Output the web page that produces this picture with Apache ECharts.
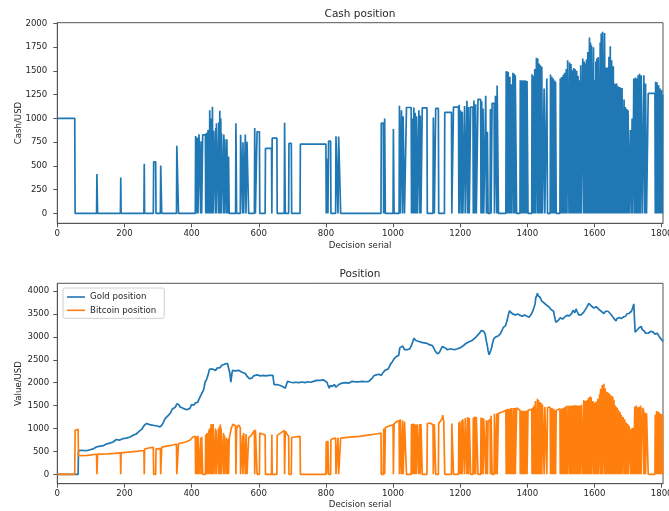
<!DOCTYPE html>
<html>
<head>
<meta charset="utf-8">
<script src="https://cdn.jsdelivr.net/npm/echarts@6/dist/echarts.min.js"></script>
<style>
  html, body { margin: 0; padding: 0; background: #fff; }
  #chart { width: 669px; height: 511px; }
</style>
</head>
<body>
<div id="chart"></div>
<script>
// Decision days run from 0 to LAST_DAY
const LAST_DAY = 1804;

const xTicks = [0, 200, 400, 600, 800, 1000, 1200, 1400, 1600, 1800];
const cashTicks = [0, 250, 500, 750, 1000, 1250, 1500, 1750, 2000];
const valueTicks = [0, 500, 1000, 1500, 2000, 2500, 3000, 3500, 4000];

// Cash held: [first day, last day, USD]; zero on all other days
const cashRuns = [
  [0,52,1000],
  [118,119,414],[189,189,379],[259,259,522],[287,293,543],[308,310,505],[356,360,712],
  [412,414,814],[417,418,800],[422,426,834],[428,429,760],[433,441,828],[444,445,850],[449,450,877],
  [452,452,880],[454,457,1087],[459,460,1000],[462,463,1122],[466,470,870],[472,472,900],[474,479,950],
  [481,482,960],[484,485,1080],[487,487,1000],[489,494,845],[496,497,830],[499,503,780],[505,507,780],
  [510,511,598],
  [532,533,950],[546,551,828],[553,554,750],[560,561,830],[565,569,755],[588,589,900],[595,602,860],
  [620,638,684],[640,654,793],[677,678,954],[690,697,737],[724,800,730],[802,805,579],[808,814,761],
  [830,835,813],[838,843,810],
  [965,971,950],[975,976,1000],[1001,1002,888],[1019,1020,1133],[1025,1027,1087],[1030,1033,1024],
  [1040,1054,1115],[1057,1058,1000],[1062,1063,1115],[1066,1067,1060],[1070,1071,1024],[1077,1078,1087],
  [1081,1082,1030],[1087,1101,1112],[1120,1122,1010],[1127,1135,1105],[1154,1174,1063],[1180,1195,1120],
  [1197,1198,1145],[1201,1204,1087],[1206,1207,1070],[1213,1214,1130],[1220,1221,1185],[1225,1226,1120],
  [1231,1238,1120],[1241,1242,1190],[1246,1247,1150],[1253,1261,1200],[1264,1265,1180],[1268,1269,1105],
  [1276,1277,1240],[1281,1282,860],[1290,1291,1100],[1295,1301,1160],[1305,1308,1240],[1310,1313,1347],
  [1337,1338,1498],[1340,1341,1498],[1343,1345,1490],[1348,1349,1440],[1352,1353,1360],[1357,1359,1480],
  [1361,1362,1470],[1364,1367,1455],[1379,1381,1403],[1383,1385,1403],[1387,1389,1400],[1391,1393,1403],
  [1395,1397,1400],[1399,1401,1395],[1414,1415,1466],[1418,1419,1450],[1422,1423,1520],[1427,1429,1638],
  [1431,1432,1630],[1435,1437,1578],[1439,1441,1560],[1443,1444,1543],[1450,1451,1315],[1458,1459,1420],
  [1469,1471,1463],[1473,1474,1438],[1477,1478,1420],[1481,1482,1400],[1484,1485,1385],[1498,1500,1420],
  [1502,1504,1435],[1507,1508,1460],[1511,1513,1480],[1516,1517,1520],[1520,1523,1613],[1526,1527,1590],
  [1530,1531,1572],[1533,1534,1508],[1538,1539,1530],[1542,1543,1520],[1547,1548,1502],[1551,1552,1450],
  [1554,1555,1403],[1559,1560,1560],[1565,1567,1631],[1569,1571,1600],[1573,1574,1578],[1576,1577,1620],
  [1580,1581,1700],[1585,1586,1852],[1588,1589,1800],[1591,1594,1771],[1597,1597,1750],[1600,1601,1403],
  [1604,1604,1600],[1607,1609,1631],[1611,1614,1648],[1617,1617,1800],[1620,1622,1894],[1624,1627,1912],
  [1630,1631,1900],[1634,1636,1536],[1638,1640,1536],[1643,1644,1650],[1647,1648,1761],[1651,1652,1613],
  [1656,1657,1550],[1660,1661,1368],[1663,1664,1360],[1666,1667,1368],[1670,1671,1340],[1674,1675,1330],
  [1677,1679,1326],[1682,1684,1320],[1688,1689,1200],[1692,1694,1120],[1696,1698,1100],[1700,1702,1087],
  [1707,1708,877],[1712,1713,1000],[1717,1719,1420],[1722,1724,1430],[1726,1727,1420],[1730,1732,1455],
  [1734,1736,1470],[1739,1742,1455],[1747,1749,1455],[1752,1754,1368],[1760,1780,1263],[1782,1784,1385],
  [1786,1788,1380],[1791,1792,1350],[1795,1797,1315],[1800,1801,1300],[1803,1804,1250]
];

// Gold position value: [day, USD]
const goldPoints = [
  [0,0],[62,0],[63,520],[68,515],[75,525],[82,515],[90,520],[97,535],[102,530],[107,555],[112,590],
  [117,600],[122,595],[128,615],[135,620],[140,640],[146,660],[151,655],[158,685],[165,700],[170,720],
  [176,760],[181,740],[185,745],[190,770],[196,780],[201,770],[205,790],[210,800],[215,810],[220,830],
  [226,855],[231,850],[235,880],[241,920],[246,960],[251,980],[255,1020],[258,1060],[261,1090],[266,1110],
  [270,1100],[275,1085],[280,1090],[286,1070],[290,1075],[295,1060],[300,1050],[306,1035],[312,1080],
  [317,1150],[321,1215],[326,1230],[330,1280],[334,1300],[338,1350],[342,1420],[346,1450],[352,1470],
  [356,1540],[359,1510],[362,1520],[366,1470],[370,1435],[375,1440],[380,1450],[385,1410],[390,1400],
  [395,1440],[400,1520],[404,1500],[407,1510],[411,1560],[415,1580],[418,1570],[422,1640],[426,1650],
  [430,1760],[433,1740],[436,1850],[440,2010],[445,2080],[450,2195],[453,2290],[457,2260],[461,2300],
  [465,2280],[472,2270],[476,2320],[480,2340],[485,2330],[490,2380],[495,2370],[500,2410],[504,2440],
  [507,2420],[512,2380],[514,2200],[517,2010],[520,2200],[522,2270],[525,2250],[530,2260],[535,2240],
  [540,2270],[545,2260],[550,2230],[555,2210],[560,2200],[564,2150],[568,2160],[572,2090],[575,2085],
  [580,2100],[585,2150],[590,2180],[595,2170],[600,2140],[605,2150],[609,2180],[614,2160],[620,2150],
  [625,2140],[630,2160],[635,2170],[642,2160],[644,2050],[646,1955],[650,1970],[655,1960],[660,1950],
  [664,1940],[668,1920],[672,1910],[676,1900],[679,1880],[682,1950],[686,2030],[690,2020],[695,2010],
  [700,1990],[704,2000],[710,2010],[715,2020],[720,2000],[725,2000],[729,2015],[733,2010],[738,2000],
  [745,2020],[750,2030],[755,2010],[759,2030],[763,2030],[768,2040],[773,2050],[778,2040],[783,2050],
  [788,2070],[793,2060],[798,2040],[803,2010],[806,1950],[810,1880],[813,1940],[816,1960],[819,1920],
  [822,1920],[825,1960],[828,1940],[830,1900],[832,1870],[835,1930],[838,1960],[843,2000],[848,1990],
  [853,1980],[858,2000],[863,2010],[868,1990],[873,2010],[878,2030],[883,2040],[888,2020],[893,2030],
  [898,2020],[903,2010],[908,2030],[913,2040],[918,2020],[923,2010],[928,2030],[933,2050],[938,2100],
  [943,2150],[946,2140],[950,2170],[954,2160],[958,2185],[962,2150],[965,2160],[968,2200],[971,2230],
  [974,2240],[977,2275],[981,2280],[985,2300],[989,2350],[992,2400],[995,2420],[998,2460],[1002,2510],
  [1005,2540],[1008,2560],[1013,2560],[1017,2600],[1020,2760],[1023,2800],[1025,2780],[1029,2800],
  [1032,2780],[1034,2720],[1036,2700],[1039,2740],[1042,2720],[1046,2730],[1050,2740],[1055,2820],
  [1059,2900],[1062,2970],[1065,2950],[1068,2920],[1072,2910],[1077,2900],[1081,2880],[1085,2880],
  [1090,2850],[1093,2870],[1097,2880],[1101,2860],[1105,2860],[1108,2830],[1112,2840],[1117,2810],
  [1121,2760],[1125,2700],[1128,2660],[1132,2630],[1135,2650],[1138,2660],[1142,2720],[1147,2790],
  [1151,2780],[1155,2760],[1158,2740],[1162,2720],[1167,2740],[1172,2740],[1177,2720],[1182,2720],
  [1187,2730],[1192,2740],[1196,2760],[1200,2760],[1204,2790],[1208,2800],[1212,2830],[1216,2850],
  [1220,2870],[1225,2890],[1230,2910],[1235,2920],[1240,2960],[1246,2990],[1250,3010],[1255,3060],
  [1260,3100],[1263,3140],[1266,3170],[1270,3120],[1274,3070],[1278,2900],[1281,2800],[1283,2700],
  [1286,2610],[1288,2640],[1291,2700],[1294,2780],[1296,2850],[1300,2960],[1303,2940],[1306,3000],
  [1310,2990],[1313,3020],[1316,3000],[1319,3060],[1322,3100],[1325,3150],[1328,3200],[1331,3190],
  [1335,3245],[1338,3320],[1341,3400],[1344,3500],[1347,3570],[1350,3540],[1353,3520],[1356,3510],
  [1359,3490],[1362,3510],[1365,3480],[1369,3490],[1372,3500],[1375,3480],[1378,3470],[1382,3490],
  [1385,3450],[1389,3470],[1392,3480],[1396,3460],[1399,3450],[1402,3470],[1405,3430],[1409,3460],
  [1412,3500],[1416,3560],[1420,3645],[1423,3720],[1425,3850],[1428,3900],[1430,3955],[1432,3900],
  [1435,3880],[1438,3860],[1440,3830],[1443,3780],[1445,3800],[1448,3760],[1450,3740],[1453,3720],
  [1455,3700],[1458,3690],[1460,3720],[1463,3680],[1465,3650],[1468,3620],[1470,3600],[1473,3570],
  [1475,3590],[1478,3560],[1480,3480],[1483,3380],[1485,3320],[1488,3340],[1492,3360],[1495,3380],
  [1498,3420],[1502,3400],[1505,3390],[1508,3420],[1512,3440],[1515,3430],[1518,3470],[1522,3480],
  [1525,3460],[1528,3480],[1530,3500],[1533,3520],[1536,3580],[1540,3560],[1542,3530],[1545,3610],
  [1548,3560],[1550,3520],[1553,3480],[1555,3450],[1558,3470],[1560,3480],[1563,3520],[1565,3500],
  [1568,3540],[1570,3560],[1573,3600],[1575,3640],[1578,3660],[1580,3700],[1583,3730],[1585,3770],
  [1588,3720],[1590,3680],[1593,3670],[1595,3650],[1598,3630],[1600,3610],[1603,3640],[1605,3660],
  [1608,3640],[1610,3620],[1613,3600],[1615,3580],[1618,3590],[1620,3560],[1623,3550],[1625,3540],
  [1628,3510],[1630,3530],[1633,3560],[1635,3580],[1638,3570],[1640,3560],[1643,3530],[1645,3540],
  [1648,3500],[1650,3480],[1653,3450],[1655,3420],[1658,3400],[1660,3380],[1662,3360],[1664,3350],
  [1667,3400],[1670,3430],[1673,3420],[1676,3440],[1678,3420],[1680,3400],[1684,3420],[1687,3440],
  [1690,3460],[1693,3450],[1696,3500],[1700,3480],[1702,3510],[1704,3540],[1707,3530],[1710,3560],
  [1712,3600],[1714,3640],[1717,3720],[1719,3400],[1721,3100],[1724,3130],[1727,3150],[1730,3170],
  [1733,3200],[1736,3240],[1739,3230],[1742,3160],[1745,3120],[1748,3130],[1750,3100],[1752,3080],
  [1754,3060],[1757,3070],[1760,3080],[1764,3100],[1767,3120],[1770,3090],[1774,3110],[1777,3090],
  [1780,3060],[1784,3070],[1787,3080],[1790,3040],[1794,2990],[1797,3000],[1800,2940],[1804,2900]
];

// Bitcoin held: each run is a list of [day, USD]; zero between runs
const bitcoinRuns = [
  [[53,960],[62,985],[63,410],[90,415],[117,438]],
  [[120,440],[150,445],[170,455],[188,470]],
  [[190,470],[220,490],[240,505],[258,520]],
  [[260,550],[272,575],[286,590]],
  [[294,555],[307,560]],
  [[311,595],[330,620],[345,640],[355,660]],
  [[361,670],[380,700],[395,745],[405,820],[411,830]],
  [[415,830],[416,820]],[[419,840],[421,845]],[[427,800]],[[430,820],[432,830]],
  [[442,870],[443,880]],[[446,900],[448,920]],[[451,950]],[[453,1000]],[[458,1090]],[[461,1100]],
  [[464,1100],[465,1080]],[[471,1000]],[[473,960]],[[480,1000]],[[483,1050]],[[486,1090]],[[488,1000]],
  [[495,900]],[[498,850]],[[504,800]],[[508,770],[509,760]],
  [[512,780],[518,1000],[523,1090],[531,1060]],
  [[534,1000],[540,1080],[545,1020]],
  [[552,850]],[[555,900],[559,860]],[[562,880],[564,870]],
  [[570,800],[578,850],[587,960]],
  [[590,970],[594,950]],
  [[603,900],[610,880],[619,860]],
  [[639,870]],
  [[655,850],[665,900],[676,960]],
  [[679,940],[684,880],[689,830]],
  [[698,800],[710,820],[723,830]],
  [[801,720]],[[806,730],[807,720]],
  [[815,760],[822,780],[829,790]],
  [[836,800],[837,800]],
  [[844,790],[870,810],[900,830],[930,860],[950,880],[964,900]],
  [[972,1000],[974,1000]],
  [[977,1020],[990,1060],[1000,1080]],
  [[1003,1100],[1010,1150],[1018,1170]],
  [[1021,1200],[1024,1190]],[[1028,1180],[1029,1170]],[[1034,1150],[1039,1120]],
  [[1055,1100],[1056,1100]],[[1059,1110],[1061,1110]],[[1064,1100],[1065,1100]],[[1068,1080],[1069,1080]],
  [[1072,1090],[1076,1090]],[[1079,1100],[1080,1100]],[[1083,1100],[1086,1100]],
  [[1102,1110],[1110,1120],[1119,1080]],
  [[1123,1090],[1126,1090]],
  [[1136,1110],[1145,1200],[1148,1290],[1151,1150],[1153,1120]],
  [[1175,1110],[1179,1110]],[[1196,1130]],[[1199,1150],[1200,1150]],[[1205,1180]],
  [[1208,1200],[1212,1200]],[[1215,1230],[1219,1230]],[[1222,1250],[1224,1250]],[[1227,1230],[1230,1230]],
  [[1239,1240],[1240,1240]],[[1243,1260],[1245,1260]],[[1248,1250],[1252,1250]],[[1262,1240],[1263,1240]],
  [[1266,1230],[1267,1230]],[[1270,1220],[1275,1250]],[[1278,1180],[1280,1180]],[[1283,1150],[1289,1200]],
  [[1292,1280],[1294,1280]],[[1302,1320],[1304,1320]],[[1309,1330]],
  [[1314,1330],[1325,1360],[1336,1400]],
  [[1339,1420]],[[1342,1430]],[[1346,1420],[1347,1425]],[[1350,1440],[1351,1440]],[[1354,1450],[1356,1450]],
  [[1360,1450]],[[1363,1450]],[[1368,1450],[1378,1400]],[[1382,1390]],[[1386,1390]],[[1390,1390]],
  [[1394,1390]],[[1398,1395]],[[1402,1395],[1413,1420]],[[1416,1460],[1417,1460]],[[1420,1500],[1421,1500]],
  [[1424,1600],[1426,1620]],[[1430,1650]],[[1433,1620],[1434,1620]],[[1438,1580]],[[1442,1550]],
  [[1445,1520],[1449,1480]],[[1452,1470],[1457,1465]],[[1460,1460],[1468,1460]],[[1472,1450]],
  [[1475,1440],[1476,1440]],[[1479,1420],[1480,1420]],[[1483,1400]],[[1486,1400],[1497,1430]],[[1501,1430]],
  [[1505,1440],[1506,1440]],[[1509,1460],[1510,1460]],[[1514,1480],[1515,1480]],[[1518,1500],[1519,1500]],
  [[1524,1500],[1525,1500]],[[1528,1490],[1529,1490]],[[1532,1500]],[[1535,1500],[1537,1505]],
  [[1540,1510],[1541,1510]],[[1544,1510],[1546,1510]],[[1549,1500],[1550,1500]],[[1553,1500]],
  [[1556,1500],[1558,1510]],[[1561,1520],[1564,1530]],[[1568,1620]],[[1572,1600]],[[1575,1600]],
  [[1578,1620],[1579,1640]],[[1582,1670],[1584,1690]],[[1587,1700]],[[1590,1680]],[[1595,1600],[1596,1590]],
  [[1598,1570],[1599,1560]],[[1602,1560],[1603,1570]],[[1605,1590],[1606,1600]],[[1610,1650]],
  [[1615,1750],[1616,1780]],[[1618,1870],[1619,1900]],[[1623,1950]],[[1628,1978],[1629,1960]],
  [[1632,1880],[1633,1850]],[[1637,1800]],[[1641,1780],[1642,1780]],[[1645,1760],[1646,1760]],
  [[1649,1720],[1650,1720]],[[1653,1700],[1655,1650]],[[1658,1620],[1659,1600]],[[1662,1500]],[[1665,1470]],
  [[1668,1450],[1669,1450]],[[1672,1400],[1673,1400]],[[1676,1360]],[[1680,1300],[1681,1300]],
  [[1685,1250],[1687,1230]],[[1690,1200],[1691,1180]],[[1695,1130]],[[1699,1100]],[[1703,1060],[1706,1030]],
  [[1709,1000],[1711,1010]],[[1714,1015],[1716,1020]],
  [[1720,1480],[1721,1480]],[[1725,1500]],[[1728,1460],[1729,1460]],[[1733,1470]],[[1737,1500],[1738,1500]],
  [[1743,1450],[1746,1400]],[[1750,1350],[1751,1350]],[[1755,1330],[1759,1300]],
  [[1781,1300]],[[1785,1380]],[[1789,1370],[1790,1370]],[[1793,1350],[1794,1350]],[[1798,1320],[1799,1320]],
  [[1802,1300]]
];

// Turn holding runs into daily line points (a holding drops to zero the day before/after a run)
function cashSeriesData(runs) {
  const pts = [];
  runs.forEach(([s, e, v]) => {
    if (s > 0) pts.push([s - 1, 0]);
    pts.push([s, v], [e, v]);
    if (e < LAST_DAY) pts.push([e + 1, 0]);
  });
  if (pts[pts.length - 1][0] < LAST_DAY) pts.push([LAST_DAY, 0]);
  return pts;
}
function bitcoinSeriesData(runs) {
  const pts = [[0, 0]];
  runs.forEach(run => {
    pts.push([run[0][0] - 1, 0]);
    run.forEach(p => pts.push(p));
    const last = run[run.length - 1][0];
    if (last < LAST_DAY) pts.push([last + 1, 0]);
  });
  if (pts[pts.length - 1][0] < LAST_DAY) pts.push([LAST_DAY, 0]);
  return pts;
}

const FONT = 'DejaVu Sans';
const TEXT = '#262626';
const FRAME = '#555555';
const BLUE = '#1f77b4';
const ORANGE = '#ff7f0e';
const LINE_W = 1.7;

function xAxisFor(gridIndex, nameGap) {
  return {
    type: 'value', gridIndex, min: 0, max: LAST_DAY,
    name: 'Decision serial', nameLocation: 'middle', nameGap,
    nameTextStyle: { fontFamily: FONT, fontSize: 8.6, color: TEXT },
    axisLine: { show: true, onZero: false, lineStyle: { color: FRAME, width: 1 } },
    axisTick: { show: true, length: 4, customValues: xTicks, lineStyle: { color: FRAME } },
    axisLabel: { customValues: xTicks, margin: 6, fontFamily: FONT, fontSize: 8.6, color: TEXT,
                 formatter: v => String(v) },
    splitLine: { show: false }
  };
}
function yAxisFor(gridIndex, name, min, max, ticks, margin) {
  return {
    type: 'value', gridIndex, min, max,
    name, nameLocation: 'middle', nameGap: 34, nameRotate: 90, nameMoveOverlap: false,
    nameTextStyle: { fontFamily: FONT, fontSize: 8.6, color: TEXT },
    axisLine: { show: true, onZero: false, lineStyle: { color: FRAME, width: 1 } },
    axisTick: { show: true, length: 4, customValues: ticks, lineStyle: { color: FRAME } },
    axisLabel: { customValues: ticks, margin, fontFamily: FONT, fontSize: 8.6, color: TEXT,
                 formatter: v => String(v) },
    splitLine: { show: false }
  };
}

const chart = echarts.init(document.getElementById('chart'), null, { renderer: 'canvas' });
chart.setOption({
  animation: false,
  backgroundColor: '#fff',
  title: [
    { text: 'Cash position', left: 360, top: 9, textAlign: 'center', padding: 0,
      textStyle: { fontFamily: FONT, fontSize: 10.5, fontWeight: 'normal', color: TEXT } },
    { text: 'Position', left: 360, top: 269, textAlign: 'center', padding: 0,
      textStyle: { fontFamily: FONT, fontSize: 10.5, fontWeight: 'normal', color: TEXT } }
  ],
  grid: [
    { left: 57.3, right: 6, top: 22.7, height: 200.6, show: true, borderColor: FRAME, borderWidth: 1,
      backgroundColor: 'transparent', outerBoundsMode: 'none', containLabel: false },
    { left: 57.3, right: 6, top: 283.3, height: 200.4, show: true, borderColor: FRAME, borderWidth: 1,
      backgroundColor: 'transparent', outerBoundsMode: 'none', containLabel: false }
  ],
  legend: {
    data: ['Gold position', 'Bitcoin position'],
    orient: 'vertical', left: 63, top: 288,
    padding: [4, 8, 3, 4], itemGap: 3.3, itemWidth: 18, itemHeight: 1.6, icon: 'rect',
    backgroundColor: 'rgba(255,255,255,0.8)', borderColor: '#d0d0d0', borderWidth: 1, borderRadius: 2,
    textStyle: { fontFamily: FONT, fontSize: 8.6, color: TEXT, lineHeight: 10 }
  },
  xAxis: [xAxisFor(0, 18), xAxisFor(1, 17)],
  yAxis: [
    yAxisFor(0, 'Cash/USD', -104, 2008, cashTicks, 10),
    yAxisFor(1, 'Value/USD', -205, 4170, valueTicks, 8)
  ],
  series: [
    { name: 'Cash position', type: 'line', xAxisIndex: 0, yAxisIndex: 0, showSymbol: false,
      data: cashSeriesData(cashRuns), lineStyle: { color: BLUE, width: LINE_W }, itemStyle: { color: BLUE } },
    { name: 'Gold position', type: 'line', xAxisIndex: 1, yAxisIndex: 1, showSymbol: false,
      data: goldPoints, lineStyle: { color: BLUE, width: LINE_W }, itemStyle: { color: BLUE } },
    { name: 'Bitcoin position', type: 'line', xAxisIndex: 1, yAxisIndex: 1, showSymbol: false,
      data: bitcoinSeriesData(bitcoinRuns), lineStyle: { color: ORANGE, width: LINE_W }, itemStyle: { color: ORANGE } }
  ]
});
</script>
</body>
</html>
